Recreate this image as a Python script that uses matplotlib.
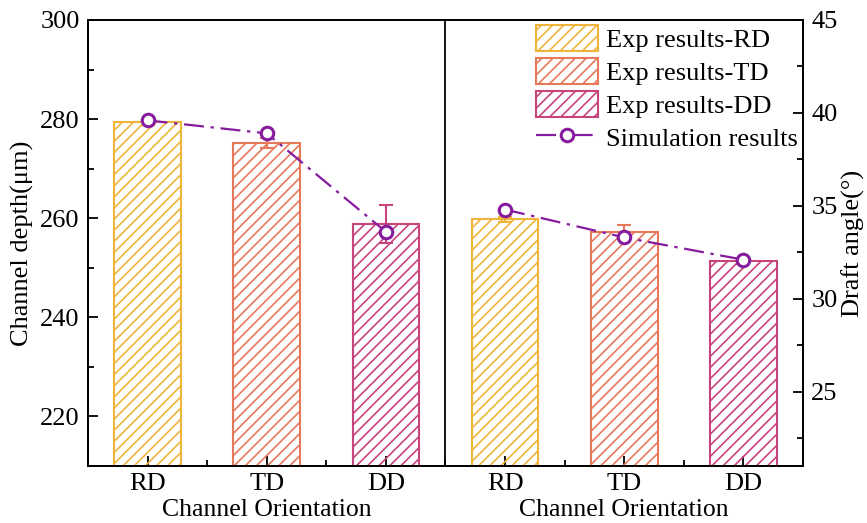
import matplotlib.pyplot as plt
import numpy as np

plt.rcParams['font.family'] = ['Liberation Serif', 'DejaVu Serif']
plt.rcParams['font.size'] = 19
plt.rcParams['hatch.linewidth'] = 1.2

# channel orientations, two groups of three
orientations = ['RD', 'TD', 'DD', 'RD', 'TD', 'DD']
depth = [279.4, 275.1, 258.9, 259.8, 257.2, 251.3]      # um
depth_err = [0.5, 1.0, 3.8, 0.5, 1.4, 0.5]
sim_angle = [39.6, 38.9, 33.6, 34.8, 33.3, 32.1]       # degrees

colors = {'RD': '#EFB43A', 'TD': '#E7785C', 'DD': '#C8447C'}
sim_color = '#861B9E'

fig = plt.figure(figsize=(8.67, 5.23), dpi=100)
ax = fig.add_axes([88 / 867, 1 - 466 / 523, 715 / 867, 446 / 523])
ax2 = ax.twinx()

x = np.arange(len(orientations))
bars = {}
for i, (o, d, e) in enumerate(zip(orientations, depth, depth_err)):
    b = ax.bar(x[i], d, width=0.56, facecolor='none', edgecolor=colors[o],
               hatch='///', linewidth=1.5, zorder=2)
    ax.errorbar(x[i], d, yerr=e, color=colors[o], capsize=5, elinewidth=1.5,
                capthick=1.5, fmt='none', zorder=3)
    bars.setdefault(o, b)

ax.axvline(2.5, color='black', linewidth=1.3, zorder=1)

ax.set_xlim(-0.5, 5.5)
ax.set_ylim(210, 300)
ax.set_yticks([220, 240, 260, 280, 300])
ax.set_yticks(np.arange(210, 300, 10), minor=True)
ax.set_xticks(x)
ax.set_xticklabels(orientations)
ax.set_xticks(np.arange(0.5, 5, 1), minor=True)
ax.set_ylabel('Channel depth(μm)', labelpad=4)

sim_style = dict(color=sim_color, linewidth=1.6, linestyle=(0, (9, 3, 1.5, 3)),
                 marker='o', markersize=9, markerfacecolor='white',
                 markeredgewidth=2.2, zorder=4)
line, = ax2.plot(x[:3], sim_angle[:3], **sim_style)
ax2.plot(x[3:], sim_angle[3:], **sim_style)
ax2.set_ylim(21, 45)
ax2.set_yticks([25, 30, 35, 40, 45])
ax2.set_yticks([22.5, 27.5, 32.5, 37.5, 42.5], minor=True)
ax2.set_ylabel('Draft angle(°)', labelpad=3)

for a in (ax, ax2):
    for s in a.spines.values():
        s.set_linewidth(1.3)
    a.tick_params(which='major', direction='in', length=7, width=1.3, pad=6)
    a.tick_params(which='minor', direction='in', length=4, width=1.3)
ax.tick_params(axis='x', which='major', pad=5)

# one axis title under each group
for cx in (1, 4):
    ax.text(cx, -0.099, 'Channel Orientation', transform=ax.get_xaxis_transform(),
            ha='center', va='center', fontsize=18.5,
            family=['Liberation Serif', 'DejaVu Serif'])

handles = [bars['RD'], bars['TD'], bars['DD'], line]
labels = ['Exp results-RD', 'Exp results-TD', 'Exp results-DD', 'Simulation results']
ax2.legend(handles, labels, loc='upper right', bbox_to_anchor=(1.0, 1.0),
           frameon=False, fontsize=19, handlelength=2.35, handleheight=1.15,
           handletextpad=0.3, labelspacing=0.22, borderpad=0.1, borderaxespad=0.1)

fig.savefig('out.png', dpi=100)
